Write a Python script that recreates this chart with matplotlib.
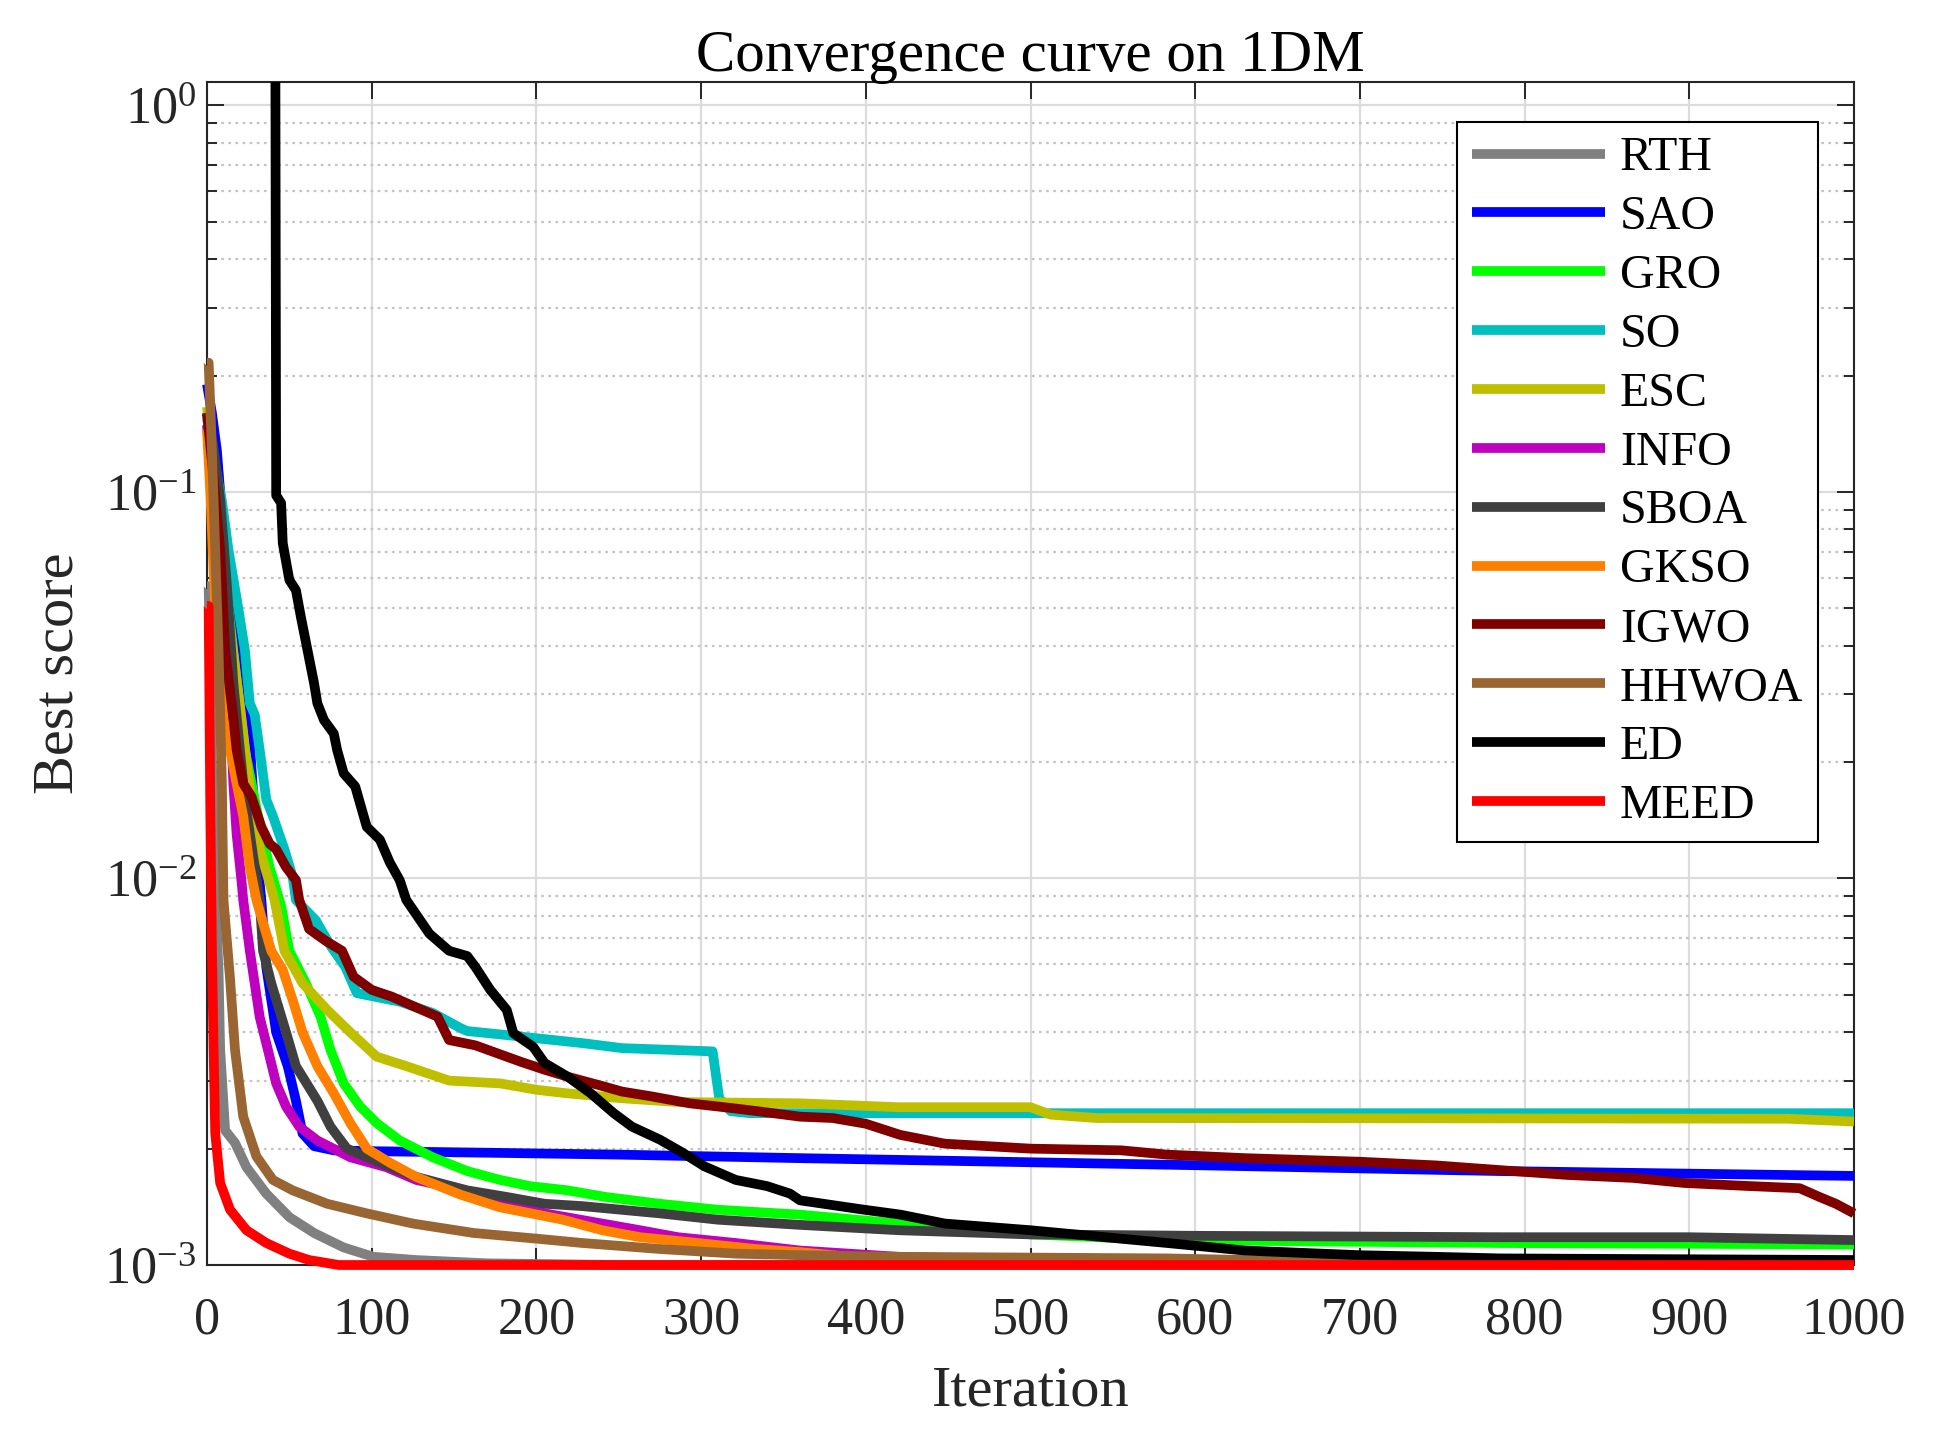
import matplotlib
matplotlib.use("Agg")
import matplotlib.pyplot as plt
from matplotlib.ticker import LogLocator, NullFormatter, LogFormatterMathtext

plt.rcParams['font.family'] = ['Liberation Serif', 'DejaVu Serif']
plt.rcParams['mathtext.fontset'] = 'custom'
plt.rcParams['mathtext.rm'] = 'Liberation Serif'
plt.rcParams['mathtext.it'] = 'Liberation Serif:italic'
plt.rcParams['mathtext.bf'] = 'Liberation Serif:bold'

# ---------------- data (iteration, best score) ----------------
labels = ['RTH', 'SAO', 'GRO', 'SO', 'ESC', 'INFO', 'SBOA', 'GKSO', 'IGWO', 'HHWOA', 'ED', 'MEED']
colors = ['#808080', '#0000FF', '#00FF00', '#00BFBF', '#BFBF00', '#BF00BF',
          '#404040', '#FF8000', '#800000', '#996633', '#000000', '#FF0000']

RTH_it = [0, 1, 3, 5, 7, 8, 11, 17, 24, 36, 50, 65, 83, 101, 127, 170, 250, 1000]
RTH_val = [0.057, 0.057, 0.02, 0.009, 0.0058, 0.0036, 0.00223, 0.00207, 0.00179, 0.00153,
           0.00133, 0.00121, 0.00111, 0.00105, 0.00103, 0.00101, 0.001, 0.001]

SAO_it = [0, 3, 6, 8, 15, 25, 31, 33, 36, 42, 49, 54, 58, 65, 77, 100, 178, 250, 360, 421, 607, 785, 1000]
SAO_val = [0.19, 0.16, 0.128, 0.1, 0.045, 0.026, 0.0107, 0.0088, 0.0059, 0.004, 0.00327, 0.00266,
           0.00219, 0.00203, 0.00198, 0.00197, 0.00195, 0.00193, 0.00189, 0.00187, 0.00181, 0.00175, 0.0017]

GRO_it = [0, 5, 13, 19, 23, 31, 38, 45, 50, 60, 69, 75, 83, 93, 103, 117, 137, 158, 178, 196, 219,
          242, 275, 310, 360, 420, 500, 583, 784, 1000]
GRO_val = [0.16, 0.1, 0.05, 0.03, 0.0215, 0.0145, 0.0107, 0.0085, 0.0065, 0.00536, 0.00438, 0.0036,
           0.00295, 0.00257, 0.00233, 0.0021, 0.0019, 0.00175, 0.00166, 0.0016, 0.00156, 0.0015,
           0.00144, 0.00139, 0.00135, 0.00128, 0.0012, 0.00116, 0.00114, 0.00113]

SO_it = [0, 3, 7, 9, 13, 19, 23, 26, 29, 32, 36, 40, 47, 52, 54, 66, 75, 84, 91, 117, 137, 154,
         158, 178, 228, 252, 307, 311, 318, 330, 1000]
SO_val = [0.155, 0.13, 0.105, 0.095, 0.071, 0.05, 0.039, 0.0284, 0.0265, 0.0215, 0.016, 0.0145,
          0.0119, 0.0101, 0.0088, 0.0078, 0.0067, 0.0059, 0.00505, 0.0048, 0.00449, 0.0041, 0.00403,
          0.00395, 0.00375, 0.00364, 0.00357, 0.0027, 0.0025, 0.00247, 0.00247]

ESC_it = [0, 4, 10, 20, 27, 32, 41, 47, 58, 73, 87, 103, 121, 147, 178, 200, 219, 252, 286, 360,
          420, 500, 512, 540, 960, 1000]
ESC_val = [0.166, 0.12, 0.06, 0.028, 0.0157, 0.0119, 0.0088, 0.0065, 0.00536, 0.00457, 0.004,
           0.00346, 0.00327, 0.003, 0.00295, 0.00284, 0.00278, 0.0027, 0.00264, 0.00262, 0.00256,
           0.00256, 0.00245, 0.0024, 0.00239, 0.00235]

INFO_it = [0, 3, 8, 15, 16, 18, 21, 22, 26, 32, 37, 42, 48, 56, 67, 87, 109, 127, 168, 205, 240,
           263, 286, 321, 360, 420, 500, 700, 1000]
INFO_val = [0.149, 0.1, 0.05, 0.0224, 0.0176, 0.013, 0.0098, 0.0088, 0.0065, 0.00438, 0.0036,
            0.00295, 0.00257, 0.00228, 0.0021, 0.0019, 0.00179, 0.00166, 0.00152, 0.00136, 0.00128,
            0.00123, 0.00118, 0.00114, 0.00109, 0.00105, 0.00103, 0.00101, 0.001]

SBOA_it = [0, 4, 8, 12, 16, 20, 23, 29, 32, 34, 39, 48, 54, 67, 75, 85, 105, 127, 158, 182, 205,
           228, 275, 310, 360, 420, 500, 600, 785, 900, 1000]
SBOA_val = [0.16, 0.13, 0.0955, 0.058, 0.032, 0.0215, 0.016, 0.0107, 0.0088, 0.0065, 0.00536,
            0.004, 0.00327, 0.00266, 0.00228, 0.002, 0.00184, 0.00169, 0.00156, 0.0015, 0.00144,
            0.00142, 0.00136, 0.00131, 0.00127, 0.00123, 0.0012, 0.00119, 0.00118, 0.00118, 0.00116]

GKSO_it = [0, 2, 5, 10, 14, 18, 22, 26, 30, 39, 46, 52, 58, 67, 77, 87, 97, 111, 127, 154, 178,
           216, 240, 263, 298, 333, 360, 390, 450, 600, 1000]
GKSO_val = [0.145, 0.1, 0.05, 0.026, 0.0215, 0.0176, 0.0145, 0.0107, 0.0088, 0.0065, 0.0058,
            0.00485, 0.004, 0.00327, 0.00278, 0.00233, 0.002, 0.00184, 0.00169, 0.00152, 0.00141,
            0.00131, 0.00123, 0.00118, 0.00114, 0.0011, 0.00108, 0.00105, 0.00103, 0.00101, 0.001]

IGWO_it = [0, 3, 8, 11, 16, 18, 22, 27, 33, 38, 42, 48, 54, 56, 62, 72, 82, 89, 100, 112, 126, 140,
           147, 163, 177, 191, 205, 219, 238, 252, 270, 293, 321, 344, 360, 380, 400, 421, 448, 500,
           555, 583, 630, 700, 746, 785, 826, 866, 897, 937, 967, 979, 989, 1000]
IGWO_val = [0.16, 0.12, 0.071, 0.039, 0.026, 0.0215, 0.0176, 0.0163, 0.0136, 0.0123, 0.0119,
            0.0107, 0.0099, 0.0088, 0.0074, 0.0069, 0.0065, 0.00557, 0.00515, 0.00495, 0.00466,
            0.00439, 0.00382, 0.0037, 0.00352, 0.00335, 0.0032, 0.00307, 0.00292, 0.00281, 0.00273,
            0.00262, 0.00254, 0.00247, 0.00242, 0.0024, 0.00232, 0.00217, 0.00206, 0.002, 0.00198,
            0.00193, 0.00189, 0.00185, 0.00181, 0.00176, 0.00171, 0.00168, 0.00163, 0.0016, 0.00158,
            0.0015, 0.00144, 0.00136]

HHWOA_it = [0, 1, 3, 7, 9, 10, 14, 17, 22, 30, 40, 52, 73, 97, 125, 162, 200, 228, 275, 321, 360,
            420, 583, 680, 800, 1000]
HHWOA_val = [0.216, 0.216, 0.128, 0.039, 0.018, 0.0088, 0.0055, 0.0036, 0.00242, 0.00191, 0.00166,
             0.00156, 0.00144, 0.00136, 0.00128, 0.00121, 0.00117, 0.00114, 0.0011, 0.00107, 0.00106,
             0.00105, 0.00104, 0.00102, 0.00101, 0.001]

ED_it = [0, 41, 42, 45, 46, 50, 54, 57, 61, 65, 67, 71, 77, 79, 83, 90, 93, 97, 105, 111, 117, 121,
         135, 147, 158, 163, 172, 182, 186, 198, 205, 219, 233, 247, 258, 275, 289, 302, 321, 340,
         354, 360, 399, 421, 448, 500, 583, 630, 700, 746, 785, 1000]
ED_val = [20.0, 20.0, 0.098, 0.0936, 0.0737, 0.0592, 0.0557, 0.0475, 0.039, 0.032, 0.0284, 0.0257,
          0.0237, 0.0215, 0.0187, 0.0173, 0.0156, 0.0136, 0.0126, 0.011, 0.0099, 0.0088, 0.0072,
          0.0065, 0.0063, 0.0059, 0.00515, 0.00457, 0.00398, 0.00367, 0.00333, 0.00307, 0.00278,
          0.00247, 0.00228, 0.00211, 0.00195, 0.0018, 0.00166, 0.0016, 0.00153, 0.00147, 0.00139,
          0.00135, 0.00128, 0.00123, 0.00114, 0.00109, 0.00106, 0.00105, 0.00104, 0.00103]

MEED_it = [0, 1, 2, 3, 4, 5, 8, 14, 24, 36, 50, 62, 80, 1000]
MEED_val = [0.0507, 0.0507, 0.015, 0.0065, 0.0036, 0.00219, 0.00163, 0.00139, 0.00123, 0.00114,
            0.00107, 0.00103, 0.001, 0.001]

series_it = [RTH_it, SAO_it, GRO_it, SO_it, ESC_it, INFO_it, SBOA_it, GKSO_it, IGWO_it,
             HHWOA_it, ED_it, MEED_it]
series_val = [RTH_val, SAO_val, GRO_val, SO_val, ESC_val, INFO_val, SBOA_val, GKSO_val, IGWO_val,
              HHWOA_val, ED_val, MEED_val]

x_ticks = [0, 100, 200, 300, 400, 500, 600, 700, 800, 900, 1000]

# ---------------- figure ----------------
W, H = 1935, 1441
fig = plt.figure(figsize=(W / 100, H / 100), dpi=100)
ax = fig.add_axes([207 / W, 1 - 1265 / H, (1854 - 207) / W, (1265 - 82) / H])

LW = 7
for lab, col, xs, ys in zip(labels, colors, series_it, series_val):
    clip = (lab == 'ED')
    ax.plot(xs, ys, color=col, lw=LW, label=lab, zorder=3, clip_on=clip,
            solid_joinstyle='round', solid_capstyle='butt')

ax.set_yscale('log')
ax.set_xlim(0, 1000)
ax.set_ylim(1e-3, 1.15)
ax.set_xticks(x_ticks)
ax.yaxis.set_major_locator(LogLocator(base=10, numticks=10))
ax.yaxis.set_minor_locator(LogLocator(base=10, subs=range(2, 10), numticks=20))
ax.yaxis.set_minor_formatter(NullFormatter())
ax.yaxis.set_major_formatter(LogFormatterMathtext())

spine_col = '#262626'
for s in ax.spines.values():
    s.set_color(spine_col)
    s.set_linewidth(1.5)

ax.tick_params(axis='both', which='major', direction='in', length=12, width=1.4,
               colors=spine_col, labelsize=37.5, top=True, right=True)
ax.tick_params(axis='y', which='minor', direction='in', length=7, width=1.4,
               colors=spine_col, right=True, left=True)
ax.tick_params(axis='x', which='major', pad=23)
ax.tick_params(axis='y', which='major', pad=8)
for t in ax.get_xticklabels() + ax.get_yticklabels():
    t.set_color('#262626')

ax.grid(True, which='major', axis='both', color='#dcdcdc', lw=1.6, ls='-', zorder=0)
ax.grid(True, which='minor', axis='y', color='#c4c4c4', lw=1.6, ls=(0, (1.2, 2.0)), zorder=0)
ax.set_axisbelow(True)

ax.set_xlabel('Iteration', fontsize=42, labelpad=15, color='#262626')
ax.set_ylabel('Best score', fontsize=42, labelpad=14, color='#262626')
ax.set_title('Convergence curve on 1DM', fontsize=42.5, pad=8, color='black')

leg = ax.legend(loc='upper right', bbox_to_anchor=(0.978, 0.9662), borderaxespad=0,
                fontsize=34.5, handlelength=2.78, handletextpad=0.31, borderpad=0.3,
                labelspacing=0.31, fancybox=False, framealpha=1, edgecolor='black')
leg.get_frame().set_linewidth(1.5)
for line in leg.get_lines():
    line.set_linewidth(LW)

fig.savefig('out.png', dpi=100)
